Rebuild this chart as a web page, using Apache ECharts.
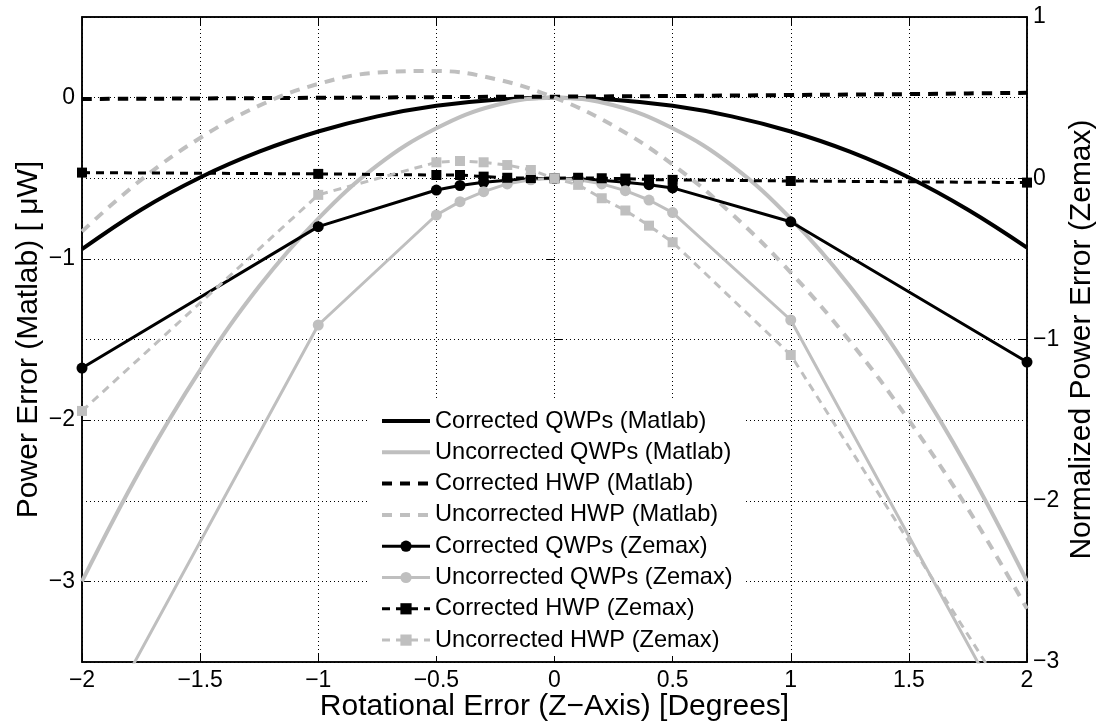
<!DOCTYPE html>
<html>
<head>
<meta charset="utf-8">
<script src="https://cdn.jsdelivr.net/npm/echarts@6.0.0/dist/echarts.min.js"></script>
<style>
  html, body { margin: 0; padding: 0; background: #fff; }
  #chart { width: 1098px; height: 725px; }
</style>
</head>
<body>
<div id="chart"></div>
<script>
// Matlab curves (left axis, µW), sampled every 0.25 degree
const matlabX = [-2, -1.75, -1.5, -1.25, -1, -0.75, -0.5, -0.25, 0, 0.25, 0.5, 0.75, 1, 1.25, 1.5, 1.75, 2];
const corrQwpMatlab = [-0.94, -0.695, -0.495, -0.335, -0.21, -0.116, -0.051, -0.013, 0, -0.013, -0.051, -0.116, -0.21, -0.335, -0.495, -0.695, -0.93];
const uncorrQwpMatlab = [-3.0, -2.30, -1.69, -1.17, -0.75, -0.42, -0.19, -0.047, 0, -0.047, -0.19, -0.42, -0.75, -1.17, -1.69, -2.30, -3.0];
const corrHwpMatlab = [-0.008, -0.007, -0.005, -0.003, -0.001, 0.001, 0.003, 0.005, 0.006, 0.008, 0.010, 0.013, 0.016, 0.019, 0.022, 0.026, 0.030];
const uncorrHwpMatlab = [-0.83, -0.51, -0.25, -0.05, 0.085, 0.155, 0.165, 0.115, 0, -0.175, -0.415, -0.72, -1.085, -1.51, -2.0, -2.55, -3.17];

// Zemax points (right axis, normalized)
const zemaxX = [-2, -1, -0.5, -0.4, -0.3, -0.2, -0.1, 0, 0.1, 0.2, 0.3, 0.4, 0.5, 1, 2];
const corrQwpZemax = [-1.177, -0.30, -0.073, -0.045, -0.025, -0.012, -0.003, 0, -0.003, -0.012, -0.025, -0.04, -0.06, -0.27, -1.14];
const uncorrQwpZemax = [-3.60, -0.91, -0.228, -0.145, -0.083, -0.035, -0.01, 0, -0.01, -0.035, -0.077, -0.135, -0.213, -0.879, -3.56];
const corrHwpZemax = [0.035, 0.027, 0.02, 0.02, 0.01, 0.003, 0.001, 0, 0.003, 0, -0.002, -0.008, -0.01, -0.017, -0.027];
const uncorrHwpZemax = [-1.443, -0.103, 0.099, 0.107, 0.099, 0.082, 0.051, 0, -0.041, -0.124, -0.2, -0.294, -0.397, -1.096, -3.41];

const leftTicks = [-3, -2, -1, 0];

const FONT = 'Liberation Sans, Arial, Helvetica, sans-serif';
const GRAY = '#bfbfbf';
const pairs = (xs, ys) => xs.map((x, i) => [x, ys[i]]);
const minus = v => String(v).replace('-', '\u2212');

const gridLine = { show: true, lineStyle: { color: '#000', width: 1, type: [1, 3] } };
const tick = { show: true, inside: true, length: 8, lineStyle: { color: '#000', width: 1 } };
const axLine = { show: true, onZero: false, lineStyle: { color: '#000', width: 1.5 } };
const tickLabel = { fontSize: 23, color: '#000', formatter: minus };
const titleText = { fontSize: 30, color: '#000' };

const legendItems = [];

function matlabLine(name, ys, color, dashed) {
  const lineStyle = { color, width: 4, type: dashed ? [10, 8] : 'solid' };
  legendItems.push({ name, lineStyle, itemStyle: { opacity: 0 } });
  return {
    name, type: 'line', xAxisIndex: 0, yAxisIndex: 0,
    data: pairs(matlabX, ys), smooth: 0.4, symbol: 'none',
    lineStyle, itemStyle: { color }
  };
}

function zemaxLine(name, ys, color, dashed, symbol) {
  const lineStyle = { color, width: 3, type: dashed ? [8, 6] : 'solid' };
  legendItems.push({ name, lineStyle });
  return {
    name, type: 'line', xAxisIndex: 0, yAxisIndex: 1,
    data: pairs(zemaxX, ys), symbol, symbolSize: symbol === 'circle' ? 11 : 10,
    lineStyle, itemStyle: { color, borderWidth: 0 }
  };
}

const series = [
  matlabLine('Corrected QWPs (Matlab)', corrQwpMatlab, '#000', false),
  matlabLine('Uncorrected QWPs (Matlab)', uncorrQwpMatlab, GRAY, false),
  matlabLine('Corrected HWP (Matlab)', corrHwpMatlab, '#000', true),
  matlabLine('Uncorrected HWP (Matlab)', uncorrHwpMatlab, GRAY, true),
  zemaxLine('Corrected QWPs (Zemax)', corrQwpZemax, '#000', false, 'circle'),
  zemaxLine('Uncorrected QWPs (Zemax)', uncorrQwpZemax, GRAY, false, 'circle'),
  zemaxLine('Corrected HWP (Zemax)', corrHwpZemax, '#000', true, 'rect'),
  zemaxLine('Uncorrected HWP (Zemax)', uncorrHwpZemax, GRAY, true, 'rect')
];

const chart = echarts.init(document.getElementById('chart'));
chart.setOption({
  animation: false,
  textStyle: { fontFamily: FONT },
  grid: {
    left: 82, right: 71, top: 17, bottom: 63, containLabel: false, outerBoundsMode: 'none',
    show: true, borderColor: '#000', borderWidth: 1.5, backgroundColor: '#fff'
  },
  legend: {
    orient: 'vertical', left: 368, top: 400,
    backgroundColor: '#fff', padding: [9, 12, 4, 12],
    itemWidth: 48, itemHeight: 14, itemGap: 7.3,
    data: legendItems,
    textStyle: { fontSize: 23.6, color: '#000', fontFamily: FONT }
  },
  xAxis: [
    {
      type: 'value', min: -2, max: 2, interval: 0.5, position: 'bottom',
      name: 'Rotational Error (Z\u2212Axis) [Degrees]', nameLocation: 'middle', nameGap: 30,
      nameMoveOverlap: false,
      nameTextStyle: titleText,
      axisLine: axLine, axisTick: tick, splitLine: gridLine,
      axisLabel: Object.assign({ margin: 7 }, tickLabel)
    },
    {
      type: 'value', min: -2, max: 2, interval: 0.5, position: 'top',
      axisLine: axLine, axisTick: tick, splitLine: { show: false }, axisLabel: { show: false }
    }
  ],
  yAxis: [
    {
      type: 'value', min: -3.5, max: 0.5, position: 'left',
      name: 'Power Error (Matlab) [ \u03bcW]', nameLocation: 'middle', nameGap: 38, nameRotate: 90,
      nameMoveOverlap: false,
      nameTextStyle: titleText,
      axisLine: axLine,
      axisTick: Object.assign({}, tick, { customValues: leftTicks }),
      splitLine: gridLine,
      axisLabel: Object.assign({ margin: 7, customValues: leftTicks }, tickLabel)
    },
    {
      type: 'value', min: -3, max: 1, interval: 1, position: 'right',
      name: 'Normalized Power Error (Zemax)', nameLocation: 'middle', nameGap: 40, nameRotate: 90,
      nameMoveOverlap: false,
      nameTextStyle: titleText,
      axisLine: axLine, axisTick: tick, splitLine: gridLine,
      axisLabel: Object.assign({ margin: 6 }, tickLabel)
    },
    {
      // right-axis ticks mirrored on the left edge
      type: 'value', min: -3, max: 1, interval: 1, position: 'left',
      axisLine: { show: false }, axisTick: tick, splitLine: { show: false }, axisLabel: { show: false }
    },
    {
      // left-axis ticks mirrored on the right edge
      type: 'value', min: -3.5, max: 0.5, position: 'right',
      axisLine: { show: false },
      axisTick: Object.assign({}, tick, { customValues: leftTicks }),
      splitLine: { show: false }, axisLabel: { show: false, customValues: leftTicks }
    }
  ],
  series
});
</script>
</body>
</html>
